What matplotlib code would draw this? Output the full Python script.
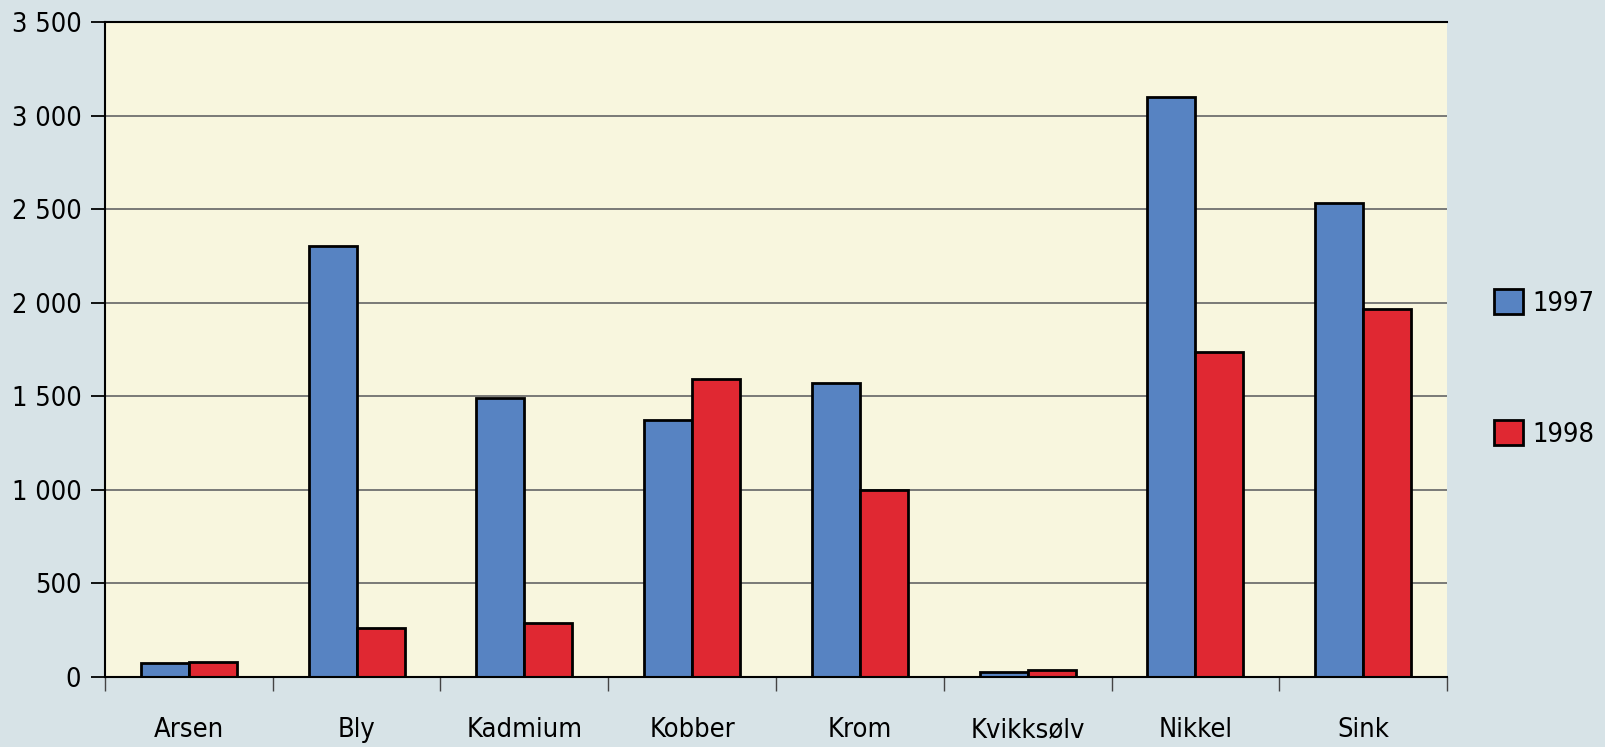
import numpy as np
import matplotlib.pyplot as plt
from matplotlib.ticker import FuncFormatter, FixedLocator

plt.rcParams['font.family'] = ['DejaVu Sans']
plt.rcParams['font.stretch'] = 'condensed'

metals = ["Arsen", "Bly", "Kadmium", "Kobber", "Krom", "Kvikksølv", "Nikkel", "Sink"]
v1997 = [77, 2302, 1493, 1372, 1569, 25, 3100, 2531]
v1998 = [80, 262, 290, 1591, 1000, 37, 1739, 1968]
years = ["1997", "1998"]

bg = "#d7e3e7"
fig = plt.figure(figsize=(16.05, 7.47), dpi=100, facecolor=bg)
ax = fig.add_axes([0.0654, 0.0937, 0.8362, 0.8768])
ax.set_facecolor("#f8f6de")

x = np.arange(len(metals))
w = 0.286
b1 = ax.bar(x - w/2, v1997, w, color="#5783c2", edgecolor="black", linewidth=2, label=years[0], zorder=3)
b2 = ax.bar(x + w/2, v1998, w, color="#e02832", edgecolor="black", linewidth=2, label=years[1], zorder=3)

ax.set_xlim(-0.5, len(metals) - 0.5)
ax.set_ylim(0, 3500)
ax.set_yticks(np.arange(0, 3501, 500))
ax.yaxis.set_major_formatter(FuncFormatter(lambda v, p: f"{int(v):,}".replace(",", " ")))
ax.grid(axis="y", color="#6f6f6f", linewidth=1.3, zorder=1)

ax.set_xticks(x)
ax.set_xticklabels(metals)
ax.xaxis.set_minor_locator(FixedLocator(np.arange(-0.5, len(metals), 1)))
ax.tick_params(axis="x", which="major", length=0, pad=29, labelsize=19.5)
ax.tick_params(axis="x", which="minor", length=10, width=1, color="#444444", direction="out")
ax.tick_params(axis="y", length=10, width=1.3, pad=7, labelsize=19.5, color="black")

for s in ["top", "left", "bottom"]:
    ax.spines[s].set_linewidth(1.5)
    ax.spines[s].set_color("black")
ax.spines["right"].set_visible(False)
ax.spines["bottom"].set_zorder(4)

leg = fig.legend(handles=[b1, b2], labels=years, loc="center left",
                 bbox_to_anchor=(0.931, 0.507), frameon=False, fontsize=19.5,
                 labelspacing=3.8, handlelength=1.05, handleheight=1.05, handletextpad=0.35,
                 borderpad=0, borderaxespad=0)

fig.savefig("out.png", dpi=100, facecolor=bg)
